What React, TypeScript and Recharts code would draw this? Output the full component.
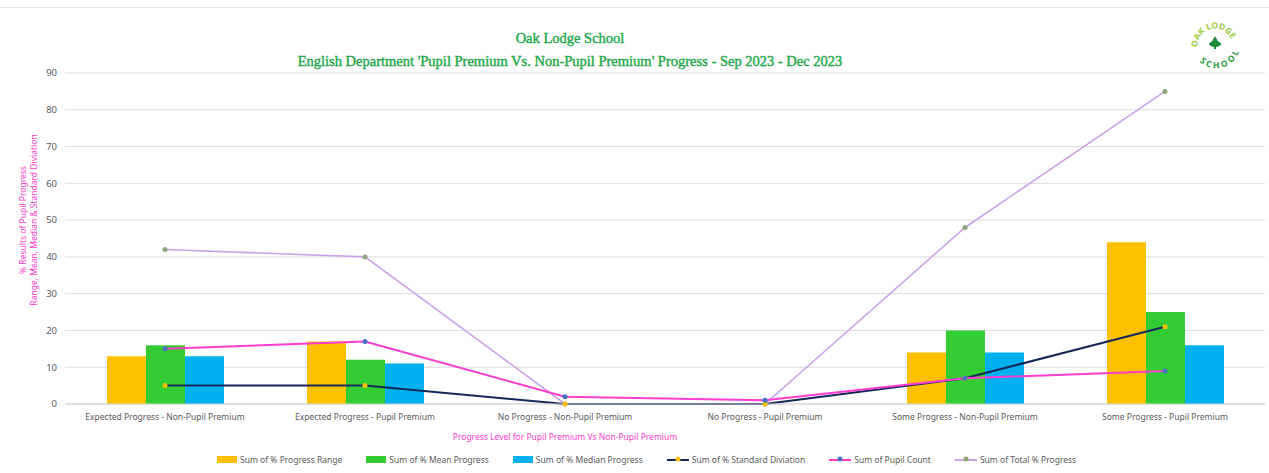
import React from 'react';
import {
  ComposedChart,
  Bar,
  Line,
  XAxis,
  YAxis,
  CartesianGrid,
} from 'recharts';

const categories = [
  'Expected  Progress - Non-Pupil Premium',
  'Expected  Progress - Pupil Premium',
  'No Progress - Non-Pupil Premium',
  'No Progress - Pupil Premium',
  'Some Progress - Non-Pupil Premium',
  'Some Progress - Pupil Premium',
];

const progressRange = [13, 17, 0, 0, 14, 44];
const meanProgress = [16, 12, 0, 0, 20, 25];
const medianProgress = [13, 11, 0, 0, 14, 16];
const standardDeviation = [5, 5, 0, 0, 7, 21];
const pupilCount = [15, 17, 2, 1, 7, 9];
const totalProgress = [42, 40, 0, 0, 48, 85];

const yTicks = [0, 10, 20, 30, 40, 50, 60, 70, 80, 90];

const chartData = categories.map((name, i) => ({
  name,
  range: progressRange[i],
  mean: meanProgress[i],
  median: medianProgress[i],
  sd: standardDeviation[i],
  count: pupilCount[i],
  total: totalProgress[i],
}));

const FONT = "'Noto Sans', 'Open Sans', sans-serif";
const MAGENTA = '#ff3ccf';
const GREEN_TITLE = '#1ea84a';

const legendItems = [
  { label: 'Sum of % Progress Range', color: '#ffc000', kind: 'bar' },
  { label: 'Sum of % Mean Progress', color: '#33cc33', kind: 'bar' },
  { label: 'Sum of % Median Progress', color: '#00b0f0', kind: 'bar' },
  { label: 'Sum of % Standard Diviation', color: '#14285a', dot: '#ffc000', kind: 'line' },
  { label: 'Sum of Pupil Count', color: MAGENTA, dot: '#4472c4', kind: 'line' },
  { label: 'Sum of Total % Progress', color: '#c9a3e8', dot: '#8fa57c', kind: 'line' },
];

// small circular school badge, top right
function Logo() {
  return (
    <svg width={60} height={60} viewBox="0 0 60 60" style={{ overflow: 'visible' }}>
      <defs>
        <path id="logoTop" d="M 13 36 A 17 17 0 0 1 47 28" />
        <path id="logoBottom" d="M 16 38 A 17 17 0 0 0 48 30" />
      </defs>
      <text fontSize={8.5} fontWeight="bold" fill="#9ccc3c" fontFamily={FONT}>
        <textPath href="#logoTop" startOffset="50%" textAnchor="middle">
          OAK LODGE
        </textPath>
      </text>
      <text fontSize={8.5} fontWeight="bold" fill="#1e9a3a" fontFamily={FONT}>
        <textPath href="#logoBottom" startOffset="50%" textAnchor="middle" dominantBaseline="hanging">
          SCHOOL
        </textPath>
      </text>
      <path d="M 25 31 L 30 22 L 35 31 Z" fill="#1e8a3a" />
      <ellipse cx={30} cy={30} rx={6} ry={3} fill="#1e8a3a" />
      <rect x={29} y={31} width={2} height={4} fill="#1e8a3a" />
    </svg>
  );
}

export default function App() {
  return (
    <div
      style={{
        position: 'absolute',
        left: 0,
        top: 0,
        width: 1269,
        height: 473,
        background: '#fff',
        fontFamily: FONT,
        overflow: 'hidden',
      }}
    >
      <div style={{ position: 'absolute', left: 0, top: 7, width: 1269, height: 1, background: '#e3e3e3' }} />
      <div
        style={{
          position: 'absolute',
          left: 0,
          width: 1140,
          top: 27,
          textAlign: 'center',
          fontFamily: "'Liberation Serif', serif",
          color: GREEN_TITLE,
          fontSize: 14.5,
          lineHeight: '23px',
          WebkitTextStroke: '0.4px ' + GREEN_TITLE,
        }}
      >
        <div>Oak Lodge School</div>
        <div>English Department 'Pupil Premium Vs. Non-Pupil Premium' Progress - Sep 2023 - Dec 2023</div>
      </div>
      <div style={{ position: 'absolute', left: 1185, top: 14 }}>
        <Logo />
      </div>

      <div
        style={{
          position: 'absolute',
          left: 27.5,
          top: 220,
          transform: 'translate(-50%, -50%) rotate(-90deg)',
          color: MAGENTA,
          fontSize: 8.5,
          lineHeight: '11px',
          textAlign: 'center',
          whiteSpace: 'nowrap',
        }}
      >
        <div>% Results of Pupil Progress</div>
        <div>Range, Mean, Median &amp; Standard Diviation</div>
      </div>

      <div style={{ position: 'absolute', top: 0, left: 0 }}>
        <ComposedChart
          width={1269}
          height={473}
          data={chartData}
          margin={{ top: 73, right: 4, bottom: 49, left: 0 }}
          barCategoryGap="21%"
          barGap={0}
        >
          <CartesianGrid vertical={false} stroke="#dcdcdc" strokeWidth={1} />
          <XAxis
            dataKey="name"
            height={20}
            tickLine={false}
            axisLine={{ stroke: '#d6d6d6' }}
            tick={{ fontSize: 8.5, fill: '#595959', fontFamily: FONT }}
            tickMargin={4}
            interval={0}
          />
          <YAxis
            domain={[0, 90]}
            ticks={yTicks}
            width={65}
            tickLine={false}
            axisLine={false}
            tick={{ fontSize: 9.5, fill: '#595959', fontFamily: FONT }}
          />
          <Bar dataKey="range" fill="#ffc000" isAnimationActive={false} />
          <Bar dataKey="mean" fill="#33cc33" isAnimationActive={false} />
          <Bar dataKey="median" fill="#00b0f0" isAnimationActive={false} />
          <Line
            type="linear"
            dataKey="total"
            stroke="#c9a3e8"
            strokeWidth={1.6}
            dot={{ r: 2.5, fill: '#8fa57c', stroke: '#8fa57c', strokeWidth: 0 }}
            isAnimationActive={false}
          />
          <Line
            type="linear"
            dataKey="sd"
            stroke="#14285a"
            strokeWidth={2}
            dot={{ r: 2.5, fill: '#ffc000', stroke: '#ffc000', strokeWidth: 0 }}
            isAnimationActive={false}
          />
          <Line
            type="linear"
            dataKey="count"
            stroke={MAGENTA}
            strokeWidth={2}
            dot={{ r: 2.5, fill: '#4472c4', stroke: '#4472c4', strokeWidth: 0 }}
            isAnimationActive={false}
          />
        </ComposedChart>
      </div>

      <div
        style={{
          position: 'absolute',
          left: 0,
          width: 1130,
          top: 431,
          textAlign: 'center',
          color: MAGENTA,
          fontSize: 8.5,
        }}
      >
        Progress Level for Pupil Premium Vs Non-Pupil Premium
      </div>

      <div
        style={{
          position: 'absolute',
          left: 217,
          top: 454,
          display: 'flex',
          alignItems: 'center',
          gap: 24,
          fontSize: 8.5,
          color: '#595959',
          whiteSpace: 'nowrap',
        }}
      >
        {legendItems.map((item) => (
          <div key={item.label} style={{ display: 'flex', alignItems: 'center', gap: 3 }}>
            {item.kind === 'bar' ? (
              <div style={{ width: 20, height: 7, background: item.color }} />
            ) : (
              <svg width={22} height={10}>
                <line x1={0} y1={5} x2={22} y2={5} stroke={item.color} strokeWidth={2} />
                <circle cx={11} cy={4} r={2.5} fill={item.dot} />
              </svg>
            )}
            <span>{item.label}</span>
          </div>
        ))}
      </div>
    </div>
  );
}
